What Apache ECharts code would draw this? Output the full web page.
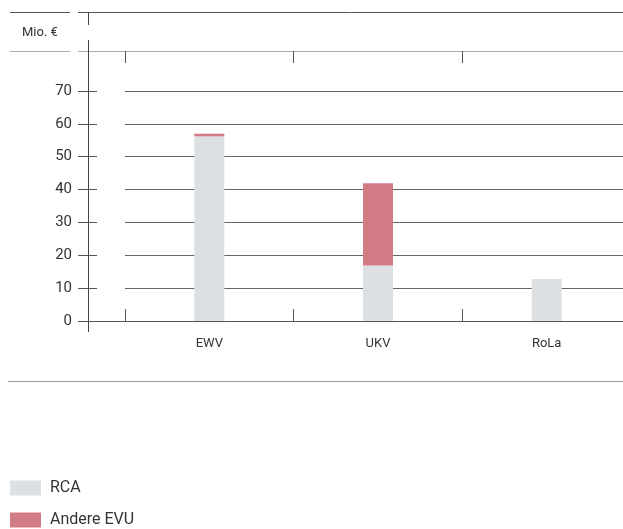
<!DOCTYPE html>
<html>
<head>
<meta charset="utf-8">
<script src="https://cdn.jsdelivr.net/npm/echarts@6/dist/echarts.min.js"></script>
<style>
html,body{margin:0;padding:0;background:#fff;}
#chart{width:623px;height:529px;}
</style>
</head>
<body>
<div id="chart"></div>
<script>
const categories = ['EWV', 'UKV', 'RoLa'];
const rcaValues = [56.2, 16.9, 12.8];
const andereValues = [0.8, 25.0, 0];
const seriesNames = ['RCA', 'Andere EVU'];
const unitLabel = 'Mio. €';
const yMin = 0, yMax = 70, yStep = 10;

const FONT = "'Roboto', sans-serif";
const chart = echarts.init(document.getElementById('chart'), null, {renderer: 'canvas'});

function line(x1, y1, x2, y2, color) {
  return {type: 'line', silent: true, shape: {x1, y1, x2, y2}, style: {stroke: color, lineWidth: 1}};
}
function legendFor(name, top) {
  return {
    orient: 'vertical', left: 10, top: top, padding: 0,
    itemWidth: 31, itemHeight: 15, itemGap: 16,
    icon: 'rect',
    data: [name],
    textStyle: {fontFamily: FONT, fontSize: 16, color: '#333', padding: [0, 0, 0, 4]}
  };
}

chart.setOption({
  animation: false,
  backgroundColor: '#ffffff',
  title: {
    text: unitLabel, left: 22, top: 26, padding: 0,
    textStyle: {fontFamily: FONT, fontSize: 13, fontWeight: 'normal', color: '#333'}
  },
  legend: [legendFor(seriesNames[0], 480), legendFor(seriesNames[1], 512)],
  grid: {left: 125, width: 506, top: 91, bottom: 208, containLabel: false, outerBoundsMode: 'none'},
  xAxis: [
    {
      type: 'category', data: categories, position: 'bottom',
      axisLine: {show: true, lineStyle: {color: '#555', width: 1}},
      axisTick: {show: true, inside: true, length: 12, lineStyle: {color: '#555'}},
      axisLabel: {margin: 16, fontFamily: FONT, fontSize: 13, color: '#333'},
      splitLine: {show: false}
    },
    {
      type: 'category', data: categories, position: 'top', offset: 40,
      axisLine: {show: false},
      axisTick: {show: true, inside: true, length: 12, lineStyle: {color: '#555'}},
      axisLabel: {show: false},
      splitLine: {show: false}
    }
  ],
  yAxis: {
    type: 'value', min: yMin, max: yMax, interval: yStep,
    position: 'left', offset: 28,
    axisLine: {show: false},
    axisTick: {show: true, length: 19, lineStyle: {color: '#555'}},
    axisLabel: {margin: 25, fontFamily: FONT, fontSize: 15, color: '#333'},
    splitLine: {show: true, lineStyle: {color: '#666', width: 1}}
  },
  graphic: [
    line(10, 12.5, 70, 12.5, '#555'),
    line(78, 12.5, 623, 12.5, '#555'),
    line(88.5, 12, 88.5, 25, '#444'),
    line(10, 51.5, 70, 51.5, '#aaa'),
    line(78, 51.5, 623, 51.5, '#aaa'),
    line(88.5, 40, 88.5, 332, '#444'),
    line(78, 321.5, 125, 321.5, '#555'),
    line(8, 381.5, 623, 381.5, '#999')
  ],
  series: [
    {
      name: seriesNames[0], type: 'bar', stack: 'total', barWidth: 30,
      itemStyle: {color: '#dde0e3'}, data: rcaValues
    },
    {
      name: seriesNames[1], type: 'bar', stack: 'total', barWidth: 30,
      itemStyle: {color: '#d17b84'}, data: andereValues
    }
  ]
});
</script>
</body>
</html>
